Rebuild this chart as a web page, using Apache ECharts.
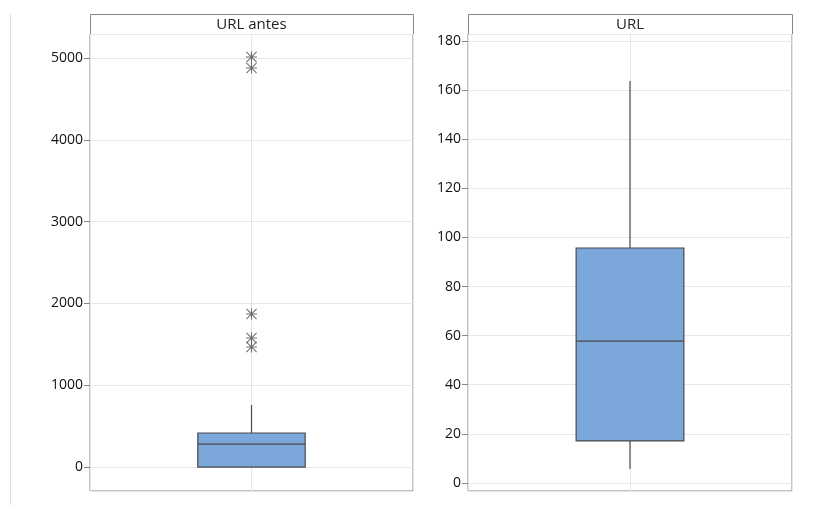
<!DOCTYPE html>
<html>
<head>
<meta charset="utf-8">
<script src="https://cdn.jsdelivr.net/npm/echarts@6/dist/echarts.min.js"></script>
<style>
  html, body { margin: 0; padding: 0; background: #fff; }
  #chart { width: 817px; height: 505px; }
</style>
</head>
<body>
<div id="chart"></div>
<script>
// Panel titles
const panelTitles = ['URL antes', 'URL'];

// Box statistics: [q1, median, q3, lower whisker end, upper whisker end]
const urlAntesBox = [0, 281, 416, 0, 758];
const urlBox = [17.1, 57.8, 95.7, 5.7, 163.7];

// Points beyond the whiskers
const urlAntesOutliers = [5012, 4878, 1870, 1577, 1467];
const urlOutliers = [];

// Axis extents
const urlAntesRange = [-293, 5293];
const urlRange = [-3.3, 182.9];

const boxFill = '#7ba7db';
const lineColor = '#4a4a4a';
const frameColor = '#878787';
const gridColor = '#e6e6e6';
const labelFont = '"Open Sans", "Noto Sans", sans-serif';

const chart = echarts.init(document.getElementById('chart'), null, { renderer: 'canvas' });

// Asterisk-like outlier marker (horizontal, vertical and two diagonal strokes)
const starSymbol = 'path://M0,4.5 H10 V5.5 H0 Z M4.5,0 H5.5 V10 H4.5 Z ' +
  'M0.7,0 L10,9.3 L9.3,10 L0,0.7 Z M9.3,0 L10,0.7 L0.7,10 L0,9.3 Z';

function renderBox(params, api) {
  const x = api.value(0);
  const q1 = api.coord([x, api.value(1)]);
  const med = api.coord([x, api.value(2)]);
  const q3 = api.coord([x, api.value(3)]);
  const lo = api.coord([x, api.value(4)]);
  const hi = api.coord([x, api.value(5)]);
  const w = api.size([0.665, 0])[0];
  const cx = q1[0];
  const style = { stroke: lineColor, lineWidth: 1.2 };
  return {
    type: 'group',
    children: [
      { type: 'line', shape: { x1: cx, y1: q3[1], x2: cx, y2: hi[1] }, style: style },
      { type: 'line', shape: { x1: cx, y1: q1[1], x2: cx, y2: lo[1] }, style: style },
      { type: 'rect', shape: { x: cx - w / 2, y: q3[1], width: w, height: q1[1] - q3[1] },
        style: { fill: boxFill, stroke: lineColor, lineWidth: 1.2 } },
      { type: 'line', shape: { x1: cx - w / 2, y1: med[1], x2: cx + w / 2, y2: med[1] }, style: style }
    ]
  };
}

const grids = [
  { left: 90, top: 34, width: 323, height: 457 },
  { left: 468, top: 34, width: 324, height: 457 }
];
const ranges = [urlAntesRange, urlRange];
const splits = [5, 9];
const boxes = [urlAntesBox, urlBox];
const outliers = [urlAntesOutliers, urlOutliers];

const option = {
  backgroundColor: '#fff',
  animation: false,
  grid: grids.map(g => Object.assign({ show: true, borderColor: frameColor, borderWidth: 1, backgroundColor: '#fff' }, g)),
  xAxis: grids.map((g, i) => ({
    type: 'value', gridIndex: i, min: 0, max: 2, interval: 1,
    axisLine: { show: false }, axisTick: { show: false }, axisLabel: { show: false },
    splitLine: { show: true, lineStyle: { color: gridColor, width: 1 } }
  })),
  yAxis: grids.map((g, i) => ({
    type: 'value', gridIndex: i, min: ranges[i][0], max: ranges[i][1], splitNumber: splits[i],
    axisLine: { show: false },
    axisTick: { show: true, length: 6, lineStyle: { color: frameColor } },
    axisLabel: { showMinLabel: false, showMaxLabel: false, color: '#111', fontSize: 14,
      fontFamily: labelFont, margin: 7, formatter: v => String(v) },
    splitLine: { show: true, lineStyle: { color: gridColor, width: 1 } }
  })),
  series: [].concat(
    boxes.map((b, i) => ({
      type: 'custom', xAxisIndex: i, yAxisIndex: i,
      renderItem: renderBox,
      encode: { x: 0, y: [1, 2, 3, 4, 5] },
      data: [[1].concat(b)]
    })),
    outliers.map((o, i) => ({
      type: 'scatter', xAxisIndex: i, yAxisIndex: i,
      symbol: starSymbol, symbolSize: 11,
      itemStyle: { color: '#505050' },
      data: o.map(v => [1, v])
    }))
  ),
  graphic: [
    { type: 'line', shape: { x1: 10.5, y1: 14, x2: 10.5, y2: 505 }, style: { stroke: '#dcdcdc', lineWidth: 1 } }
  ].concat(grids.map((g, i) => ({
    type: 'group',
    children: [
      { type: 'rect', shape: { x: g.left + 0.5, y: 14.5, width: g.width, height: 20 },
        style: { fill: '#fff', stroke: frameColor, lineWidth: 1 } },
      { type: 'text', x: g.left + g.width / 2, y: 24.5,
        style: { text: panelTitles[i], align: 'center', verticalAlign: 'middle',
          fill: '#222', fontSize: 15, fontFamily: labelFont } }
    ]
  })))
};

chart.setOption(option);
</script>
</body>
</html>
